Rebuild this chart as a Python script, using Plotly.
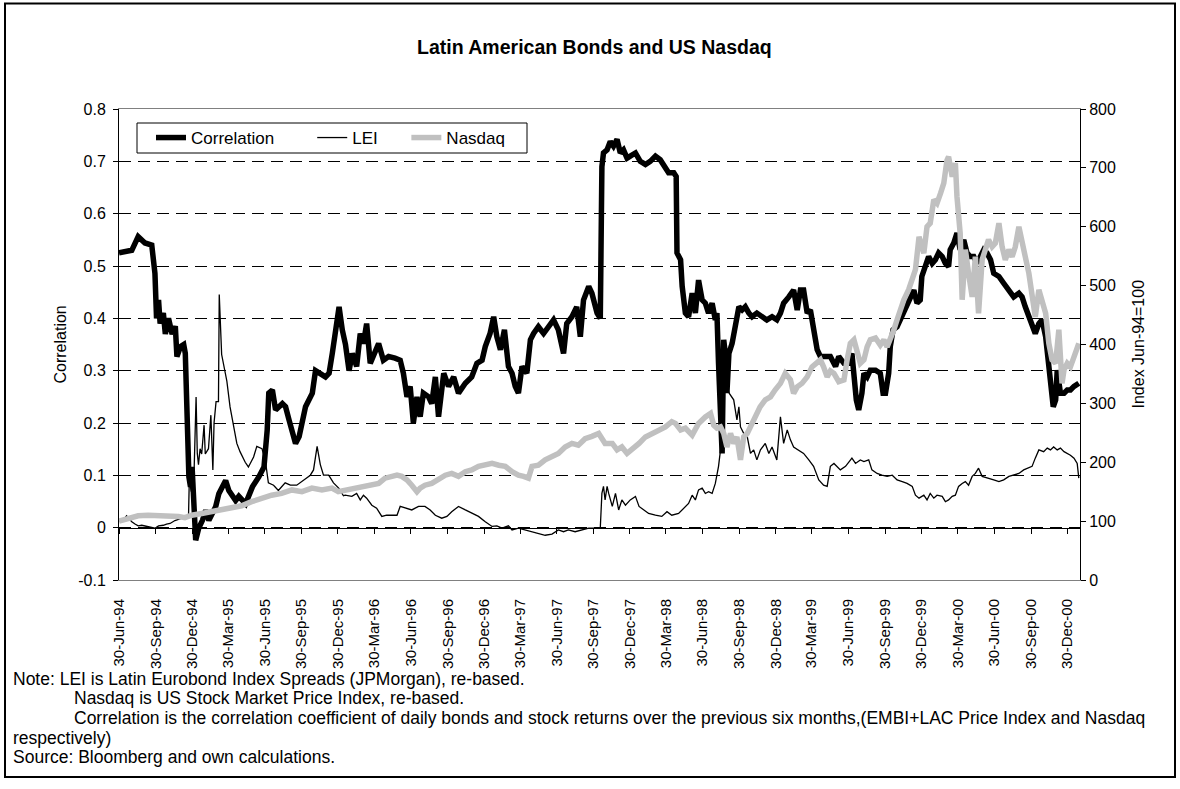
import plotly.graph_objects as go

# ---------------- data ----------------
corr_dates = [
    "1994-06-30","1994-07-15","1994-08-01","1994-08-17","1994-09-03","1994-09-20","1994-09-28","1994-10-02",
    "1994-10-07","1994-10-11","1994-10-19","1994-10-24","1994-11-01","1994-11-10","1994-11-18","1994-11-22",
    "1994-12-01","1994-12-09","1994-12-13","1994-12-22","1994-12-26","1994-12-30","1995-01-03","1995-01-08",
    "1995-01-16","1995-01-25","1995-02-02","1995-02-10","1995-02-27","1995-03-07","1995-03-24","1995-04-01",
    "1995-04-18","1995-04-26","1995-05-13","1995-05-21","1995-05-30","1995-06-15","1995-06-28","1995-07-06",
    "1995-07-10","1995-07-19","1995-07-27","1995-08-13","1995-08-21","1995-08-30","1995-09-15","1995-09-24",
    "1995-10-10","1995-10-27","1995-11-04","1995-11-29","1995-12-08","1995-12-16","1995-12-24","1996-01-02",
    "1996-01-10","1996-01-18","1996-01-27","1996-02-04","1996-02-15","1996-02-24","1996-03-03","1996-03-11",
    "1996-03-20","1996-04-01","1996-04-10","1996-04-22","1996-05-05","1996-05-21","1996-06-03","1996-06-11",
    "1996-06-20","1996-06-28","1996-07-06","1996-07-15","1996-07-23","1996-07-31","1996-08-13","1996-08-21",
    "1996-08-30","1996-09-07","1996-09-20","1996-10-02","1996-10-15","1996-10-27","1996-11-13","1996-11-29",
    "1996-12-12","1996-12-25","1997-01-02","1997-01-14","1997-01-23","1997-01-31","1997-02-09","1997-02-19",
    "1997-03-01","1997-03-10","1997-03-18","1997-03-26","1997-04-04","1997-04-16","1997-04-25","1997-05-03",
    "1997-05-15","1997-05-28","1997-06-09","1997-06-22","1997-07-04","1997-07-17","1997-07-25","1997-08-07",
    "1997-08-19","1997-08-28","1997-09-05","1997-09-18","1997-09-26","1997-09-30","1997-10-09","1997-10-17",
    "1997-10-21","1997-10-25","1997-11-03","1997-11-11","1997-11-19","1997-11-28","1997-12-06","1997-12-14",
    "1997-12-23","1997-12-31","1998-01-13","1998-01-25","1998-02-07","1998-02-19","1998-03-04","1998-03-16",
    "1998-03-29","1998-04-06","1998-04-19","1998-04-25","1998-04-27","1998-05-06","1998-05-10","1998-05-14",
    "1998-05-18","1998-05-26","1998-06-04","1998-06-12","1998-06-20","1998-06-29","1998-07-07","1998-07-15",
    "1998-07-24","1998-08-01","1998-08-05","1998-08-09","1998-08-14","1998-08-18","1998-08-22","1998-08-26",
    "1998-08-30","1998-09-04","1998-09-12","1998-09-20","1998-09-29","1998-10-07","1998-10-15","1998-10-24",
    "1998-11-01","1998-11-13","1998-11-26","1998-12-08","1998-12-21","1999-01-02","1999-01-11","1999-01-19",
    "1999-02-01","1999-02-13","1999-02-22","1999-03-02","1999-03-10","1999-03-19","1999-03-27","1999-04-04",
    "1999-04-13","1999-04-21","1999-05-04","1999-05-16","1999-05-29","1999-06-06","1999-06-19","1999-07-01",
    "1999-07-09","1999-07-14","1999-07-20","1999-07-26","1999-08-03","1999-08-08","1999-08-16","1999-08-24",
    "1999-09-06","1999-09-18","1999-09-25","1999-10-01","1999-10-09","1999-10-13","1999-10-20","1999-10-30",
    "1999-11-07","1999-11-16","1999-11-24","1999-12-02","1999-12-11","1999-12-19","1999-12-27","1999-12-31",
    "2000-01-09","2000-01-17","2000-01-26","2000-02-03","2000-02-11","2000-02-20","2000-02-28","2000-03-07",
    "2000-03-11","2000-03-20","2000-03-28","2000-04-05","2000-04-14","2000-04-22","2000-04-30","2000-05-09",
    "2000-05-17","2000-05-25","2000-06-03","2000-06-11","2000-06-20","2000-06-28","2000-07-11","2000-07-23",
    "2000-08-05","2000-08-17","2000-08-30","2000-09-07","2000-09-15","2000-09-24","2000-10-02","2000-10-10",
    "2000-10-19","2000-10-27","2000-11-05","2000-11-13","2000-11-19","2000-11-24","2000-11-30","2000-12-04",
    "2000-12-12","2000-12-21","2000-12-29","2001-01-06","2001-01-15","2001-01-27",
]
corr_values = [
    0.525,0.528,0.530,0.556,0.544,0.540,0.486,0.400,
    0.435,0.390,0.410,0.370,0.400,0.370,0.385,0.327,
    0.346,0.350,0.333,0.097,0.078,0.116,0.020,-0.024,
    0.000,0.014,0.033,0.014,0.040,0.065,0.090,0.071,
    0.052,0.060,0.046,0.060,0.078,0.097,0.116,0.186,
    0.257,0.263,0.225,0.237,0.231,0.205,0.161,0.174,
    0.231,0.257,0.300,0.288,0.295,0.333,0.371,0.422,
    0.378,0.350,0.300,0.333,0.308,0.371,0.352,0.390,
    0.314,0.340,0.352,0.320,0.327,0.324,0.320,0.295,
    0.250,0.270,0.200,0.250,0.212,0.257,0.250,0.237,
    0.288,0.212,0.295,0.270,0.288,0.257,0.276,0.288,
    0.314,0.320,0.346,0.371,0.403,0.365,0.340,0.378,
    0.308,0.295,0.270,0.257,0.308,0.295,0.359,0.371,
    0.384,0.371,0.384,0.397,0.378,0.333,0.390,0.403,
    0.422,0.365,0.435,0.461,0.448,0.435,0.410,0.400,
    0.690,0.716,0.722,0.738,0.729,0.742,0.716,0.722,
    0.706,0.710,0.716,0.700,0.694,0.700,0.710,0.703,
    0.690,0.678,0.678,0.671,0.525,0.512,0.461,0.435,
    0.410,0.403,0.448,0.410,0.473,0.435,0.429,0.410,
    0.429,0.397,0.410,0.314,0.200,0.142,0.359,0.333,
    0.257,0.333,0.352,0.384,0.422,0.416,0.422,0.410,
    0.403,0.410,0.403,0.397,0.403,0.397,0.410,0.429,
    0.441,0.454,0.416,0.454,0.454,0.410,0.416,0.384,
    0.340,0.327,0.327,0.327,0.308,0.327,0.314,0.314,
    0.333,0.288,0.244,0.225,0.257,0.295,0.288,0.301,
    0.301,0.295,0.257,0.257,0.295,0.346,0.378,0.384,
    0.397,0.410,0.422,0.435,0.454,0.429,0.435,0.480,
    0.499,0.518,0.505,0.512,0.525,0.518,0.505,0.499,
    0.531,0.544,0.563,0.531,0.550,0.525,0.518,0.518,
    0.505,0.518,0.531,0.525,0.512,0.486,0.480,0.467,
    0.454,0.441,0.448,0.441,0.422,0.403,0.384,0.371,
    0.390,0.397,0.365,0.314,0.257,0.231,0.244,0.301,
    0.257,0.257,0.263,0.263,0.270,0.276,
]

lei_dates = [
    "1994-06-30","1994-07-11","1994-07-19","1994-08-01","1994-08-09","1994-08-17","1994-08-26","1994-09-07",
    "1994-09-20","1994-09-28","1994-10-07","1994-10-19","1994-10-27","1994-11-05","1994-11-17","1994-11-26",
    "1994-12-08","1994-12-17","1994-12-21","1994-12-23","1994-12-28","1995-01-04","1995-01-09","1995-01-12",
    "1995-01-15","1995-01-19","1995-01-23","1995-01-29","1995-02-01","1995-02-09","1995-02-15","1995-02-20",
    "1995-02-23","1995-02-28","1995-03-06","1995-03-08","1995-03-14","1995-03-27","1995-04-04","1995-04-13",
    "1995-04-21","1995-04-29","1995-05-12","1995-05-20","1995-06-02","1995-06-10","1995-06-23","1995-07-01",
    "1995-07-09","1995-07-22","1995-08-03","1995-08-20","1995-09-02","1995-09-18","1995-10-05","1995-10-22",
    "1995-10-30","1995-11-08","1995-11-16","1995-11-24","1995-12-07","1995-12-19","1996-01-01","1996-01-13",
    "1996-01-17","1996-02-03","1996-02-15","1996-02-24","1996-03-03","1996-03-11","1996-03-24","1996-04-05",
    "1996-04-18","1996-04-30","1996-05-13","1996-05-26","1996-06-03","1996-06-15","1996-07-02","1996-07-19",
    "1996-08-04","1996-08-17","1996-08-30","1996-09-15","1996-09-28","1996-10-10","1996-10-27","1996-11-13",
    "1996-11-29","1996-12-16","1997-01-02","1997-01-19","1997-01-31","1997-02-13","1997-03-01","1997-03-10",
    "1997-03-26","1997-04-12","1997-04-29","1997-05-15","1997-06-01","1997-06-18","1997-07-04","1997-07-17",
    "1997-07-29","1997-08-15","1997-09-01","1997-09-18","1997-10-04","1997-10-17","1997-10-21","1997-10-25",
    "1997-10-29","1997-11-03","1997-11-07","1997-11-16","1997-11-24","1997-12-02","1997-12-10","1997-12-19",
    "1997-12-31","1998-01-13","1998-01-22","1998-02-03","1998-02-15","1998-03-04","1998-03-20","1998-04-02",
    "1998-04-14","1998-05-01","1998-05-18","1998-05-26","1998-06-04","1998-06-12","1998-06-20","1998-06-29",
    "1998-07-07","1998-07-15","1998-07-24","1998-08-01","1998-08-09","1998-08-14","1998-08-18","1998-08-25",
    "1998-08-30","1998-09-05","1998-09-16","1998-09-24","1998-09-29","1998-10-03","1998-10-11","1998-10-20",
    "1998-10-28","1998-11-05","1998-11-13","1998-11-22","1998-12-04","1998-12-13","1998-12-21","1999-01-02",
    "1999-01-11","1999-01-19","1999-01-28","1999-02-05","1999-02-13","1999-02-26","1999-03-10","1999-03-23",
    "1999-04-04","1999-04-17","1999-04-29","1999-05-08","1999-05-16","1999-05-25","1999-06-02","1999-06-10",
    "1999-06-23","1999-07-01","1999-07-09","1999-07-18","1999-07-30","1999-08-08","1999-08-20","1999-08-28",
    "1999-09-10","1999-09-22","1999-10-05","1999-10-18","1999-10-30","1999-11-12","1999-11-24","1999-12-07",
    "1999-12-15","1999-12-24","2000-01-05","2000-01-13","2000-01-21","2000-01-30","2000-02-07","2000-02-20",
    "2000-02-28","2000-03-07","2000-03-16","2000-03-24","2000-04-01","2000-04-10","2000-04-18","2000-04-26",
    "2000-05-05","2000-05-13","2000-05-21","2000-05-30","2000-06-11","2000-06-28","2000-07-11","2000-07-23",
    "2000-08-05","2000-08-17","2000-08-30","2000-09-11","2000-09-24","2000-10-02","2000-10-10","2000-10-19",
    "2000-10-31","2000-11-09","2000-11-17","2000-11-25","2000-12-04","2000-12-12","2000-12-21","2001-01-06",
    "2001-01-15","2001-01-23","2001-01-27",
]
lei_values = [
    100,102,109,99,95,92,93,91,
    89,88,92,93,95,96,101,103,
    105,108,107,170,150,185,311,215,
    196,223,214,263,214,223,280,187,
    267,303,303,485,383,338,294,258,
    232,218,200,192,209,227,223,205,
    165,161,152,165,161,161,169,178,
    187,227,196,178,178,165,156,143,
    144,142,147,136,144,139,127,122,
    108,110,110,110,125,122,119,125,
    125,119,110,105,108,116,125,119,
    113,108,99,91,92,88,92,85,
    88,85,82,79,76,78,85,82,
    85,82,85,88,88,89,147,159,
    136,159,147,125,147,119,136,127,
    136,142,125,119,113,110,108,116,
    110,113,125,130,144,136,153,156,
    147,150,147,164,193,221,266,345,
    328,317,306,272,294,260,249,243,
    215,221,204,221,232,215,226,204,
    277,232,255,238,226,221,215,204,
    193,170,161,159,193,198,193,187,
    193,201,207,198,204,201,204,187,
    181,178,176,178,170,167,164,159,
    144,139,144,136,147,139,144,142,
    133,136,142,144,159,164,167,161,
    176,181,190,176,173,170,167,170,
    176,178,181,187,190,193,207,221,
    218,224,221,226,221,224,218,212,
    207,198,173,
]

nasdaq_dates = [
    "1994-06-30","1994-07-23","1994-08-17","1994-09-11","1994-10-07","1994-11-01","1994-11-26","1994-12-12",
    "1994-12-29","1995-01-23","1995-02-17","1995-03-14","1995-04-08","1995-05-03","1995-05-28","1995-06-22",
    "1995-07-17","1995-08-11","1995-09-06","1995-10-01","1995-10-26","1995-11-20","1995-12-15","1995-12-31",
    "1996-01-17","1996-02-03","1996-02-20","1996-03-08","1996-03-24","1996-04-10","1996-04-26","1996-05-13",
    "1996-05-26","1996-06-07","1996-06-20","1996-07-02","1996-07-15","1996-07-23","1996-08-04","1996-08-21",
    "1996-09-07","1996-09-24","1996-10-10","1996-10-27","1996-11-13","1996-11-29","1996-12-16","1997-01-02",
    "1997-01-19","1997-02-05","1997-02-21","1997-03-10","1997-03-26","1997-04-08","1997-04-20","1997-04-29",
    "1997-05-15","1997-06-01","1997-06-18","1997-07-04","1997-07-21","1997-08-07","1997-08-23","1997-09-09",
    "1997-09-26","1997-10-13","1997-10-29","1997-11-16","1997-11-28","1997-12-10","1997-12-23","1998-01-04",
    "1998-01-22","1998-02-07","1998-02-23","1998-03-12","1998-03-29","1998-04-14","1998-04-23","1998-05-06",
    "1998-05-18","1998-06-04","1998-06-20","1998-07-07","1998-07-20","1998-07-28","1998-08-05","1998-08-14",
    "1998-08-22","1998-08-30","1998-09-08","1998-09-16","1998-09-24","1998-10-03","1998-10-11","1998-10-20",
    "1998-10-28","1998-11-10","1998-11-21","1998-12-04","1998-12-17","1998-12-29","1999-01-11","1999-01-23",
    "1999-02-05","1999-02-13","1999-02-22","1999-03-06","1999-03-19","1999-03-31","1999-04-13","1999-04-21",
    "1999-04-29","1999-05-08","1999-05-16","1999-05-25","1999-06-06","1999-06-19","1999-06-27","1999-07-05",
    "1999-07-14","1999-07-22","1999-07-30","1999-08-08","1999-08-16","1999-08-24","1999-09-06","1999-09-18",
    "1999-09-27","1999-10-05","1999-10-13","1999-10-22","1999-10-30","1999-11-07","1999-11-16","1999-11-28",
    "1999-12-07","1999-12-15","1999-12-24","2000-01-05","2000-01-13","2000-01-21","2000-01-30","2000-02-07",
    "2000-02-16","2000-02-24","2000-03-03","2000-03-07","2000-03-16","2000-03-24","2000-03-28","2000-04-05",
    "2000-04-10","2000-04-18","2000-04-26","2000-05-05","2000-05-13","2000-05-21","2000-05-30","2000-06-07",
    "2000-06-15","2000-06-24","2000-07-02","2000-07-11","2000-07-19","2000-07-27","2000-08-05","2000-08-13",
    "2000-08-21","2000-08-30","2000-09-07","2000-09-15","2000-09-24","2000-10-02","2000-10-10","2000-10-19",
    "2000-10-27","2000-11-05","2000-11-13","2000-11-21","2000-11-30","2000-12-08","2000-12-16","2000-12-21",
    "2000-12-29","2001-01-06","2001-01-15","2001-01-27",
]
nasdaq_values = [
    100,105,109,110,109,110,108,106,
    110,113,116,119,122,126,133,139,
    144,147,153,150,156,153,156,150,
    152,155,157,159,161,164,173,176,
    178,176,170,161,150,156,161,164,
    170,178,181,176,184,187,193,195,
    198,195,193,184,178,176,173,193,
    195,204,210,215,226,232,229,240,
    244,249,232,232,221,226,215,221,
    232,243,249,255,260,269,266,255,
    258,246,266,277,283,263,258,260,
    249,226,249,232,243,204,243,249,
    260,277,294,306,311,323,334,351,
    340,317,328,334,345,362,368,374,
    362,345,355,351,337,340,374,402,
    408,385,368,374,396,408,411,399,
    408,396,408,425,442,459,476,493,
    510,527,583,555,600,606,646,640,
    657,674,713,719,685,708,651,589,
    476,561,521,481,549,453,544,561,
    578,566,572,606,566,544,561,549,
    566,600,578,549,521,487,447,493,
    476,453,402,374,368,425,334,357,
    368,362,379,402,
]

tick_dates = [
    "1994-06-30","1994-09-30","1994-12-30","1995-03-30","1995-06-30","1995-09-30","1995-12-30",
    "1996-03-30","1996-06-30","1996-09-30","1996-12-30","1997-03-30","1997-06-30","1997-09-30",
    "1997-12-30","1998-03-30","1998-06-30","1998-09-30","1998-12-30","1999-03-30","1999-06-30",
    "1999-09-30","1999-12-30","2000-03-30","2000-06-30","2000-09-30","2000-12-30",
]
tick_labels = [
    "30-Jun-94","30-Sep-94","30-Dec-94","30-Mar-95","30-Jun-95","30-Sep-95","30-Dec-95",
    "30-Mar-96","30-Jun-96","30-Sep-96","30-Dec-96","30-Mar-97","30-Jun-97","30-Sep-97",
    "30-Dec-97","30-Mar-98","30-Jun-98","30-Sep-98","30-Dec-98","30-Mar-99","30-Jun-99",
    "30-Sep-99","30-Dec-99","30-Mar-00","30-Jun-00","30-Sep-00","30-Dec-00",
]
left_ticks = [-0.1, 0, 0.1, 0.2, 0.3, 0.4, 0.5, 0.6, 0.7, 0.8]
left_tick_text = ["-0.1", "0", "0.1", "0.2", "0.3", "0.4", "0.5", "0.6", "0.7", "0.8"]
right_ticks = [0, 100, 200, 300, 400, 500, 600, 700, 800]

series_names = ["Correlation", "LEI", "Nasdaq"]
title_text = "Latin American Bonds and US Nasdaq"
note_lines = [
    "Note: LEI is Latin Eurobond Index Spreads (JPMorgan), re-based.",
    "Nasdaq is US Stock Market Price Index, re-based.",
    "Correlation is the correlation coefficient of daily bonds and stock returns over the previous six months,(EMBI+LAC Price Index and Nasdaq",
    "respectively)",
    "Source: Bloomberg and own calculations.",
]
note_indent = [False, True, True, False, False]

# ---------------- figure ----------------
FONT = "Liberation Sans, Arial, sans-serif"
W, H = 1180, 789
L, R, T, B = 119, 100, 109, 209
pw, ph = W - L - R, H - T - B


def px(xp):
    return (xp - L) / pw


def py(yp):
    return (H - B - yp) / ph


NBSP = "\u00a0"
legend_pad = [7, 5, 0]
x_range = ["1994-06-30", "2001-01-30"]

fig = go.Figure()
fig.add_trace(go.Scatter(x=corr_dates, y=corr_values, name=series_names[0] + NBSP * legend_pad[0],
                         mode="lines", line=dict(color="black", width=5.5), xaxis="x", yaxis="y"))
fig.add_trace(go.Scatter(x=lei_dates, y=lei_values, name=series_names[1] + NBSP * legend_pad[1],
                         mode="lines", line=dict(color="black", width=1.3), xaxis="x2", yaxis="y2"))
fig.add_trace(go.Scatter(x=nasdaq_dates, y=nasdaq_values, name=series_names[2] + NBSP * legend_pad[2],
                         mode="lines", line=dict(color="#c0c0c0", width=5.5), xaxis="x2", yaxis="y2"))

tickfont = dict(family=FONT, size=16, color="black")
xtickfont = dict(family=FONT, size=15, color="black")

fig.update_layout(
    width=W, height=H,
    margin=dict(l=L, r=R, t=T, b=B, pad=0),
    paper_bgcolor="white", plot_bgcolor="white",
    font=dict(family=FONT, size=16, color="black"),
    showlegend=True,
    legend=dict(orientation="h", x=px(151), y=py(138), xanchor="left", yanchor="middle",
                borderwidth=0, bgcolor="rgba(0,0,0,0)",
                font=dict(family=FONT, size=17, color="black")),
    xaxis=dict(type="date", range=x_range, tickvals=tick_dates, ticktext=tick_labels,
               tickangle=-90, ticks="outside", ticklen=12, tickcolor="rgba(0,0,0,0)",
               showline=True, linecolor="#808080", linewidth=1, mirror=True,
               showgrid=False, zeroline=False, tickfont=xtickfont),
    xaxis2=dict(type="date", range=x_range, overlaying="x", anchor="free",
                position=(0 - (-0.1)) / 0.9, side="bottom",
                tickvals=tick_dates, showticklabels=False, ticks="outside", ticklen=5,
                tickcolor="black", showline=True, linecolor="black", linewidth=1,
                showgrid=False, zeroline=False),
    yaxis=dict(range=[-0.1, 0.8], tickvals=left_ticks, ticktext=left_tick_text,
               ticks="outside", ticklen=5, tickcolor="black", ticklabelstandoff=4,
               showline=True, linecolor="black", linewidth=1,
               showgrid=True, gridcolor="black", gridwidth=1, griddash="12px,7px",
               zeroline=False, tickfont=tickfont),
    yaxis2=dict(range=[0, 800], tickvals=right_ticks, overlaying="y", side="right",
                anchor="x", ticks="outside", ticklen=5, tickcolor="black",
                showline=True, linecolor="black", linewidth=1,
                showgrid=False, zeroline=False, tickfont=tickfont),
)

ann = [
    dict(text="<b>" + title_text + "</b>", x=px(594), y=py(47), xref="paper", yref="paper",
         xanchor="center", yanchor="middle", showarrow=False,
         font=dict(family=FONT, size=19.5, color="black")),
    dict(text="Correlation", x=px(60), y=0.5, xref="paper", yref="paper", textangle=-90,
         xanchor="center", yanchor="middle", showarrow=False,
         font=dict(family=FONT, size=16, color="black")),
    dict(text="Index Jun-94=100", x=px(1138), y=0.5, xref="paper", yref="paper", textangle=-90,
         xanchor="center", yanchor="middle", showarrow=False,
         font=dict(family=FONT, size=16, color="black")),
]
note_y = [679, 698, 718, 738, 757]
for txt, ind, yy in zip(note_lines, note_indent, note_y):
    ann.append(dict(text=txt, x=px(72 if ind else 11), y=py(yy), xref="paper", yref="paper",
                    xanchor="left", yanchor="middle", showarrow=False,
                    font=dict(family=FONT, size=17.5, color="black")))
fig.update_layout(annotations=ann)

# legend frame and outer chart frame
fig.add_shape(type="rect", xref="paper", yref="paper",
              x0=px(137), x1=px(527), y0=py(153), y1=py(123),
              line=dict(color="black", width=1), fillcolor="white", layer="above")
fig.add_shape(type="rect", xref="paper", yref="paper",
              x0=px(5), x1=px(1175), y0=py(777), y1=py(3.5),
              line=dict(color="black", width=2), fillcolor="rgba(0,0,0,0)", layer="above")

fig.write_html("out.html", config={"displayModeBar": False},
               post_script="document.body.style.margin='0px';")
